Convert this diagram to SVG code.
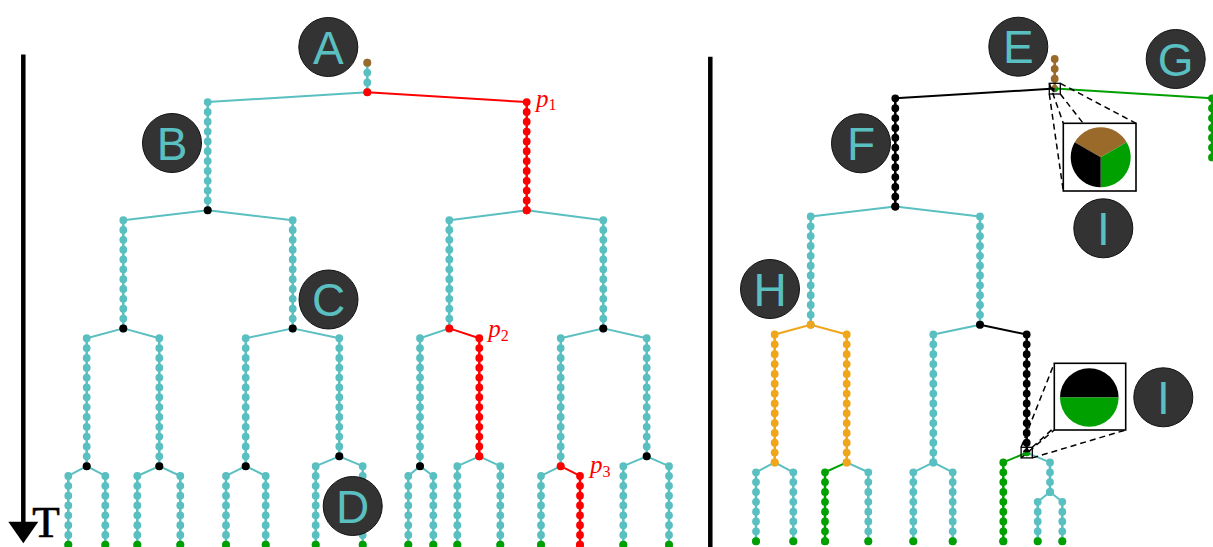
<svg xmlns="http://www.w3.org/2000/svg" width="1213" height="547" viewBox="0 0 1213 547">
<style>
.t{stroke:#5abfc0}.r{stroke:#ff0000}.k{stroke:#000}.g{stroke:#00a000}.o{stroke:#f0a61a}.b{stroke:#9a6a2a}
.ft{fill:#5abfc0}.fr{fill:#ff0000}.fk{fill:#000}.fg{fill:#00a000}.fo{fill:#f0a61a}.fb{fill:#9a6a2a}
.cn line{stroke-width:2;fill:none}
.cl{stroke-width:2.5}
.ch{stroke-width:7.8;stroke-linecap:round;stroke-dasharray:0 9.84}
.lab circle{fill:#333;stroke:#111;stroke-width:1}
.lab text{font-family:"Liberation Sans",Arial,sans-serif;font-size:46px;fill:#5abfc0;text-anchor:middle}
.pl{font-family:"Liberation Serif","Times New Roman",serif;fill:#ff0000;font-size:25px}
.pl .s{font-style:normal;font-size:16px}
.dash{stroke:#000;stroke-width:1.5;stroke-dasharray:6 4;fill:none}
.box{fill:#fff;stroke:#000;stroke-width:1.6}
.sbox{fill:none;stroke:#000;stroke-width:1.3}
</style>

<!-- axis and separator -->
<g id="axis">
<line x1="23.3" y1="54.5" x2="23.3" y2="524" stroke="#000" stroke-width="4.5"/>
<polygon points="8.3,521.7 38.3,521.7 23.3,543.3" fill="#000"/>
<text x="32.3" y="537" font-family="'Liberation Serif','Times New Roman',serif" font-size="45" stroke="#000" stroke-width="0.7">T</text>
</g>
<line id="separator" x1="710.3" y1="56.7" x2="710.3" y2="547" stroke="#000" stroke-width="4.5"/>

<!-- connectors -->
<g id="connectors" class="cn">
<line class="t" x1="367.3" y1="92.22" x2="207.7" y2="102.06"/>
<line class="r" x1="367.3" y1="92.22" x2="526.7" y2="102.06"/>
<line class="t" x1="207.7" y1="210.3" x2="123.3" y2="220.14"/>
<line class="t" x1="207.7" y1="210.3" x2="292.7" y2="220.14"/>
<line class="t" x1="526.7" y1="210.3" x2="449.3" y2="220.14"/>
<line class="t" x1="526.7" y1="210.3" x2="603.3" y2="220.14"/>
<line class="t" x1="123.3" y1="328.38" x2="86.7" y2="338.22"/>
<line class="t" x1="123.3" y1="328.38" x2="159.3" y2="338.22"/>
<line class="t" x1="292.7" y1="328.38" x2="245.7" y2="338.22"/>
<line class="t" x1="292.7" y1="328.38" x2="339.3" y2="338.22"/>
<line class="t" x1="449.3" y1="328.38" x2="420" y2="338.22"/>
<line class="r" x1="449.3" y1="328.38" x2="479.3" y2="338.22"/>
<line class="t" x1="603.3" y1="328.38" x2="560.7" y2="338.22"/>
<line class="t" x1="603.3" y1="328.38" x2="646.7" y2="338.22"/>
<line class="t" x1="86.7" y1="466.14" x2="68.3" y2="475.98"/>
<line class="t" x1="86.7" y1="466.14" x2="105.3" y2="475.98"/>
<line class="t" x1="159.3" y1="466.14" x2="137.3" y2="475.98"/>
<line class="t" x1="159.3" y1="466.14" x2="180.3" y2="475.98"/>
<line class="t" x1="245.7" y1="466.14" x2="226" y2="475.98"/>
<line class="t" x1="245.7" y1="466.14" x2="265.7" y2="475.98"/>
<line class="t" x1="339.3" y1="456.3" x2="315.7" y2="466.14"/>
<line class="t" x1="339.3" y1="456.3" x2="362.7" y2="466.14"/>
<line class="t" x1="420" y1="466.14" x2="408.3" y2="475.98"/>
<line class="t" x1="420" y1="466.14" x2="433.3" y2="475.98"/>
<line class="t" x1="479.3" y1="456.3" x2="457.3" y2="466.14"/>
<line class="t" x1="479.3" y1="456.3" x2="500.3" y2="466.14"/>
<line class="t" x1="560.7" y1="466.14" x2="541" y2="475.98"/>
<line class="r" x1="560.7" y1="466.14" x2="580" y2="475.98"/>
<line class="t" x1="646.7" y1="456.3" x2="623.3" y2="466.14"/>
<line class="t" x1="646.7" y1="456.3" x2="669" y2="466.14"/>
<!-- right tree -->
<line class="k" x1="1054.7" y1="88.52" x2="895.3" y2="98.36"/>
<line class="g" x1="1054.7" y1="88.52" x2="1212" y2="98.36"/>
<line class="t" x1="895.3" y1="206.6" x2="810.7" y2="216.44"/>
<line class="t" x1="895.3" y1="206.6" x2="980" y2="216.44"/>
<line class="o" x1="810.7" y1="324.68" x2="774.7" y2="334.52"/>
<line class="o" x1="810.7" y1="324.68" x2="846.7" y2="334.52"/>
<line class="t" x1="980" y1="324.68" x2="933.3" y2="334.52"/>
<line class="k" x1="980" y1="324.68" x2="1026.7" y2="334.52"/>
<line class="t" x1="774.7" y1="462.44" x2="756" y2="472.28"/>
<line class="t" x1="774.7" y1="462.44" x2="793.3" y2="472.28"/>
<line class="g" x1="846.7" y1="462.44" x2="825" y2="472.28"/>
<line class="t" x1="846.7" y1="462.44" x2="868.3" y2="472.28"/>
<line class="t" x1="933.3" y1="462.44" x2="913.3" y2="472.28"/>
<line class="t" x1="933.3" y1="462.44" x2="952.7" y2="472.28"/>
<line class="g" x1="1026.7" y1="452.6" x2="1003.3" y2="462.44"/>
<line class="t" x1="1026.7" y1="452.6" x2="1050" y2="462.44"/>
<line class="t" x1="1050" y1="491.96" x2="1037.7" y2="501.8"/>
<line class="t" x1="1050" y1="491.96" x2="1062.3" y2="501.8"/>
</g>

<!-- left tree chains -->
<g id="L-root"><line class="cl t" x1="367.3" y1="62.7" x2="367.3" y2="92.22"/><line class="ch t" x1="367.3" y1="62.7" x2="367.3" y2="93.2"/><circle class="fb" cx="367.3" cy="62.7" r="3.9"/><circle class="fr" cx="367.3" cy="92.22" r="4"/></g>
<g id="L-1a"><line class="cl t" x1="207.7" y1="102.06" x2="207.7" y2="210.3"/><line class="ch t" x1="207.7" y1="102.06" x2="207.7" y2="211.3"/><circle class="fk" cx="207.7" cy="210.3" r="4"/></g>
<g id="L-1b"><line class="cl r" x1="526.7" y1="102.06" x2="526.7" y2="210.3"/><line class="ch r" x1="526.7" y1="102.06" x2="526.7" y2="211.3"/><circle class="fr" cx="526.7" cy="210.3" r="4"/></g>
<g id="L-2a"><line class="cl t" x1="123.3" y1="220.14" x2="123.3" y2="328.38"/><line class="ch t" x1="123.3" y1="220.14" x2="123.3" y2="329.4"/><circle class="fk" cx="123.3" cy="328.38" r="4"/></g>
<g id="L-2b"><line class="cl t" x1="292.7" y1="220.14" x2="292.7" y2="328.38"/><line class="ch t" x1="292.7" y1="220.14" x2="292.7" y2="329.4"/><circle class="fk" cx="292.7" cy="328.38" r="4"/></g>
<g id="L-2c"><line class="cl t" x1="449.3" y1="220.14" x2="449.3" y2="328.38"/><line class="ch t" x1="449.3" y1="220.14" x2="449.3" y2="329.4"/><circle class="fr" cx="449.3" cy="328.38" r="4"/></g>
<g id="L-2d"><line class="cl t" x1="603.3" y1="220.14" x2="603.3" y2="328.38"/><line class="ch t" x1="603.3" y1="220.14" x2="603.3" y2="329.4"/><circle class="fk" cx="603.3" cy="328.38" r="4"/></g>
<g id="L-3a"><line class="cl t" x1="86.7" y1="338.22" x2="86.7" y2="466.14"/><line class="ch t" x1="86.7" y1="338.22" x2="86.7" y2="467.1"/><circle class="fk" cx="86.7" cy="466.14" r="4"/></g>
<g id="L-3b"><line class="cl t" x1="159.3" y1="338.22" x2="159.3" y2="466.14"/><line class="ch t" x1="159.3" y1="338.22" x2="159.3" y2="467.1"/><circle class="fk" cx="159.3" cy="466.14" r="4"/></g>
<g id="L-3c"><line class="cl t" x1="245.7" y1="338.22" x2="245.7" y2="466.14"/><line class="ch t" x1="245.7" y1="338.22" x2="245.7" y2="467.1"/><circle class="fk" cx="245.7" cy="466.14" r="4"/></g>
<g id="L-3d"><line class="cl t" x1="339.3" y1="338.22" x2="339.3" y2="456.3"/><line class="ch t" x1="339.3" y1="338.22" x2="339.3" y2="457.3"/><circle class="fk" cx="339.3" cy="456.3" r="4"/></g>
<g id="L-3e"><line class="cl t" x1="420" y1="338.22" x2="420" y2="466.14"/><line class="ch t" x1="420" y1="338.22" x2="420" y2="467.1"/><circle class="fk" cx="420" cy="466.14" r="4"/></g>
<g id="L-3f"><line class="cl r" x1="479.3" y1="338.22" x2="479.3" y2="456.3"/><line class="ch r" x1="479.3" y1="338.22" x2="479.3" y2="457.3"/><circle class="fr" cx="479.3" cy="456.3" r="4"/></g>
<g id="L-3g"><line class="cl t" x1="560.7" y1="338.22" x2="560.7" y2="466.14"/><line class="ch t" x1="560.7" y1="338.22" x2="560.7" y2="467.1"/><circle class="fr" cx="560.7" cy="466.14" r="4"/></g>
<g id="L-3h"><line class="cl t" x1="646.7" y1="338.22" x2="646.7" y2="456.3"/><line class="ch t" x1="646.7" y1="338.22" x2="646.7" y2="457.3"/><circle class="fk" cx="646.7" cy="456.3" r="4"/></g>
<!-- left leaves -->
<g id="L-4a"><line class="cl t" x1="68.3" y1="475.98" x2="68.3" y2="544.86"/><line class="ch t" x1="68.3" y1="475.98" x2="68.3" y2="545.8"/><circle class="fg" cx="68.3" cy="544.86" r="4"/></g>
<g id="L-4b"><line class="cl t" x1="105.3" y1="475.98" x2="105.3" y2="544.86"/><line class="ch t" x1="105.3" y1="475.98" x2="105.3" y2="545.8"/><circle class="fg" cx="105.3" cy="544.86" r="4"/></g>
<g id="L-4c"><line class="cl t" x1="137.3" y1="475.98" x2="137.3" y2="544.86"/><line class="ch t" x1="137.3" y1="475.98" x2="137.3" y2="545.8"/><circle class="fg" cx="137.3" cy="544.86" r="4"/></g>
<g id="L-4d"><line class="cl t" x1="180.3" y1="475.98" x2="180.3" y2="544.86"/><line class="ch t" x1="180.3" y1="475.98" x2="180.3" y2="545.8"/><circle class="fg" cx="180.3" cy="544.86" r="4"/></g>
<g id="L-4e"><line class="cl t" x1="226" y1="475.98" x2="226" y2="544.86"/><line class="ch t" x1="226" y1="475.98" x2="226" y2="545.8"/><circle class="fg" cx="226" cy="544.86" r="4"/></g>
<g id="L-4f"><line class="cl t" x1="265.7" y1="475.98" x2="265.7" y2="544.86"/><line class="ch t" x1="265.7" y1="475.98" x2="265.7" y2="545.8"/><circle class="fg" cx="265.7" cy="544.86" r="4"/></g>
<g id="L-4g"><line class="cl t" x1="315.7" y1="466.14" x2="315.7" y2="544.86"/><line class="ch t" x1="315.7" y1="466.14" x2="315.7" y2="545.8"/><circle class="fg" cx="315.7" cy="544.86" r="4"/></g>
<g id="L-4h"><line class="cl t" x1="362.7" y1="466.14" x2="362.7" y2="544.86"/><line class="ch t" x1="362.7" y1="466.14" x2="362.7" y2="545.8"/><circle class="fg" cx="362.7" cy="544.86" r="4"/></g>
<g id="L-4i"><line class="cl t" x1="408.3" y1="475.98" x2="408.3" y2="544.86"/><line class="ch t" x1="408.3" y1="475.98" x2="408.3" y2="545.8"/><circle class="fg" cx="408.3" cy="544.86" r="4"/></g>
<g id="L-4j"><line class="cl t" x1="433.3" y1="475.98" x2="433.3" y2="544.86"/><line class="ch t" x1="433.3" y1="475.98" x2="433.3" y2="545.8"/><circle class="fg" cx="433.3" cy="544.86" r="4"/></g>
<g id="L-4k"><line class="cl t" x1="457.3" y1="466.14" x2="457.3" y2="544.86"/><line class="ch t" x1="457.3" y1="466.14" x2="457.3" y2="545.8"/><circle class="fg" cx="457.3" cy="544.86" r="4"/></g>
<g id="L-4l"><line class="cl t" x1="500.3" y1="466.14" x2="500.3" y2="544.86"/><line class="ch t" x1="500.3" y1="466.14" x2="500.3" y2="545.8"/><circle class="fg" cx="500.3" cy="544.86" r="4"/></g>
<g id="L-4m"><line class="cl t" x1="541" y1="475.98" x2="541" y2="544.86"/><line class="ch t" x1="541" y1="475.98" x2="541" y2="545.8"/><circle class="fg" cx="541" cy="544.86" r="4"/></g>
<g id="L-4n"><line class="cl r" x1="580" y1="475.98" x2="580" y2="544.86"/><line class="ch r" x1="580" y1="475.98" x2="580" y2="545.8"/><circle class="fr" cx="580" cy="544.86" r="4"/></g>
<g id="L-4o"><line class="cl t" x1="623.3" y1="466.14" x2="623.3" y2="544.86"/><line class="ch t" x1="623.3" y1="466.14" x2="623.3" y2="545.8"/><circle class="fg" cx="623.3" cy="544.86" r="4"/></g>
<g id="L-4p"><line class="cl t" x1="669" y1="466.14" x2="669" y2="544.86"/><line class="ch t" x1="669" y1="466.14" x2="669" y2="545.8"/><circle class="fg" cx="669" cy="544.86" r="4"/></g>

<!-- p labels -->
<text class="pl" x="536" y="106.5"><tspan font-style="italic">p</tspan><tspan class="s" dy="3.5">1</tspan></text>
<text class="pl" x="488.3" y="337"><tspan font-style="italic">p</tspan><tspan class="s" dy="3.5">2</tspan></text>
<text class="pl" x="590" y="473"><tspan font-style="italic">p</tspan><tspan class="s" dy="3.5">3</tspan></text>

<!-- right tree chains -->
<g id="R-root"><line class="cl b" x1="1054.7" y1="59" x2="1054.7" y2="88.52"/><line class="ch b" x1="1054.7" y1="59" x2="1054.7" y2="79.7"/></g>
<g id="R-G"><line class="cl g" x1="1212" y1="98.36" x2="1212" y2="157.4"/><line class="ch g" x1="1212" y1="98.36" x2="1212" y2="158.4"/></g>
<g id="R-F"><line class="cl k" x1="895.3" y1="98.36" x2="895.3" y2="206.6"/><line class="ch k" x1="895.3" y1="98.36" x2="895.3" y2="207.6"/><circle class="fk" cx="895.3" cy="206.6" r="4"/></g>
<g id="R-2a"><line class="cl t" x1="810.7" y1="216.44" x2="810.7" y2="324.68"/><line class="ch t" x1="810.7" y1="216.44" x2="810.7" y2="325.7"/><circle class="fo" cx="810.7" cy="324.68" r="4"/></g>
<g id="R-2b"><line class="cl t" x1="980" y1="216.44" x2="980" y2="324.68"/><line class="ch t" x1="980" y1="216.44" x2="980" y2="325.7"/><circle class="fk" cx="980" cy="324.68" r="4"/></g>
<g id="R-3a"><line class="cl o" x1="774.7" y1="334.52" x2="774.7" y2="462.44"/><line class="ch o" x1="774.7" y1="334.52" x2="774.7" y2="463.4"/><circle class="fo" cx="774.7" cy="462.44" r="4"/></g>
<g id="R-3b"><line class="cl o" x1="846.7" y1="334.52" x2="846.7" y2="462.44"/><line class="ch o" x1="846.7" y1="334.52" x2="846.7" y2="463.4"/><circle class="fo" cx="846.7" cy="462.44" r="4"/></g>
<g id="R-3c"><line class="cl t" x1="933.3" y1="334.52" x2="933.3" y2="462.44"/><line class="ch t" x1="933.3" y1="334.52" x2="933.3" y2="463.4"/><circle class="ft" cx="933.3" cy="462.44" r="4"/></g>
<g id="R-3d"><line class="cl k" x1="1026.7" y1="334.52" x2="1026.7" y2="452.6"/><line class="ch k" x1="1026.7" y1="334.52" x2="1026.7" y2="444"/></g>
<g id="R-4a"><line class="cl t" x1="756" y1="472.28" x2="756" y2="541.16"/><line class="ch t" x1="756" y1="472.28" x2="756" y2="542.1"/><circle class="fg" cx="756" cy="541.16" r="4"/></g>
<g id="R-4b"><line class="cl t" x1="793.3" y1="472.28" x2="793.3" y2="541.16"/><line class="ch t" x1="793.3" y1="472.28" x2="793.3" y2="542.1"/><circle class="fg" cx="793.3" cy="541.16" r="4"/></g>
<g id="R-4c"><line class="cl g" x1="825" y1="472.28" x2="825" y2="541.16"/><line class="ch g" x1="825" y1="472.28" x2="825" y2="542.1"/><circle class="fg" cx="825" cy="541.16" r="4"/></g>
<g id="R-4d"><line class="cl t" x1="868.3" y1="472.28" x2="868.3" y2="541.16"/><line class="ch t" x1="868.3" y1="472.28" x2="868.3" y2="542.1"/><circle class="fg" cx="868.3" cy="541.16" r="4"/></g>
<g id="R-4e"><line class="cl t" x1="913.3" y1="472.28" x2="913.3" y2="541.16"/><line class="ch t" x1="913.3" y1="472.28" x2="913.3" y2="542.1"/><circle class="fg" cx="913.3" cy="541.16" r="4"/></g>
<g id="R-4f"><line class="cl t" x1="952.7" y1="472.28" x2="952.7" y2="541.16"/><line class="ch t" x1="952.7" y1="472.28" x2="952.7" y2="542.1"/><circle class="fg" cx="952.7" cy="541.16" r="4"/></g>
<g id="R-4g"><line class="cl g" x1="1003.3" y1="462.44" x2="1003.3" y2="541.16"/><line class="ch g" x1="1003.3" y1="462.44" x2="1003.3" y2="542.1"/><circle class="fg" cx="1003.3" cy="541.16" r="4"/></g>
<g id="R-4h"><line class="cl t" x1="1050" y1="462.44" x2="1050" y2="491.96"/><line class="ch t" x1="1050" y1="462.44" x2="1050" y2="492.9"/><circle class="ft" cx="1050" cy="491.96" r="4"/></g>
<g id="R-5a"><line class="cl t" x1="1037.7" y1="501.8" x2="1037.7" y2="541.16"/><line class="ch t" x1="1037.7" y1="501.8" x2="1037.7" y2="542.1"/><circle class="fg" cx="1037.7" cy="541.16" r="4"/></g>
<g id="R-5b"><line class="cl t" x1="1062.3" y1="501.8" x2="1062.3" y2="541.16"/><line class="ch t" x1="1062.3" y1="501.8" x2="1062.3" y2="542.1"/><circle class="fg" cx="1062.3" cy="541.16" r="4"/></g>

<!-- spy inset 1 -->
<g id="inset-1">
<line class="dash" x1="1049.3" y1="83.3" x2="1063.3" y2="123.3"/>
<line class="dash" x1="1060.3" y1="83.3" x2="1136" y2="123.3"/>
<line class="dash" x1="1049.3" y1="94" x2="1063.3" y2="191"/>
<line class="dash" x1="1060.3" y1="94" x2="1136" y2="191"/>
<path class="fb" d="M1054.7 88.52 L1051.5 86.67 A3.7 3.7 0 0 1 1057.9 86.67 Z"/>
<path class="fg" d="M1054.7 88.52 L1057.9 86.67 A3.7 3.7 0 0 1 1054.7 92.22 Z"/>
<path class="fk" d="M1054.7 88.52 L1054.7 92.22 A3.7 3.7 0 0 1 1051.5 86.67 Z"/>
<rect class="sbox" x="1049.3" y="83.3" width="11" height="10.7"/>
<rect class="box" x="1063.3" y="123.3" width="72.7" height="67.7"/>
<path class="fb" d="M1100.7 157.3 L1074.72 142.3 A30 30 0 0 1 1126.68 142.3 Z"/>
<path class="fg" d="M1100.7 157.3 L1126.68 142.3 A30 30 0 0 1 1100.7 187.3 Z"/>
<path class="fk" d="M1100.7 157.3 L1100.7 187.3 A30 30 0 0 1 1074.72 142.3 Z"/>
</g>

<!-- spy inset 2 -->
<g id="inset-2">
<line class="dash" x1="1021.1" y1="447.3" x2="1054.3" y2="363.3"/>
<line class="dash" x1="1032.3" y1="447.3" x2="1125.7" y2="363.3"/>
<line class="dash" x1="1021.1" y1="457.9" x2="1054.3" y2="430"/>
<line class="dash" x1="1032.3" y1="457.9" x2="1125.7" y2="430"/>
<path class="fk" d="M1023 452.6 A3.7 3.7 0 0 1 1030.4 452.6 Z"/>
<path class="fg" d="M1030.4 452.6 A3.7 3.7 0 0 1 1023 452.6 Z"/>
<rect class="sbox" x="1021.1" y="447.3" width="11.2" height="10.6"/>
<rect class="box" x="1054.3" y="363.3" width="71.4" height="66.7"/>
<path class="fk" d="M1060 397.5 A29.3 29.3 0 0 1 1118.6 397.5 Z"/>
<path class="fg" d="M1118.6 397.5 A29.3 29.3 0 0 1 1060 397.5 Z"/>
</g>

<!-- labels -->
<g id="label-A" class="lab"><circle cx="328.3" cy="47" r="29.5"/><text x="328.3" y="63.5">A</text></g>
<g id="label-B" class="lab"><circle cx="172" cy="143" r="29.5"/><text x="172" y="159.5">B</text></g>
<g id="label-C" class="lab"><circle cx="328.5" cy="299.5" r="29.5"/><text x="328.5" y="316">C</text></g>
<g id="label-D" class="lab"><circle cx="352.7" cy="506" r="29.5"/><text x="352.7" y="522.5">D</text></g>
<g id="label-E" class="lab"><circle cx="1018.3" cy="46.7" r="29.5"/><text x="1018.3" y="63.2">E</text></g>
<g id="label-F" class="lab"><circle cx="861" cy="143.3" r="29.5"/><text x="861" y="159.8">F</text></g>
<g id="label-G" class="lab"><circle cx="1175.7" cy="59" r="29.5"/><text x="1175.7" y="75.5">G</text></g>
<g id="label-H" class="lab"><circle cx="770" cy="289" r="29.5"/><text x="770" y="305.5">H</text></g>
<g id="label-I1" class="lab"><circle cx="1103.3" cy="228.3" r="29.5"/><text x="1103.3" y="244.8">I</text></g>
<g id="label-I2" class="lab"><circle cx="1163.3" cy="397.3" r="29.5"/><text x="1163.3" y="413.8">I</text></g>
</svg>
